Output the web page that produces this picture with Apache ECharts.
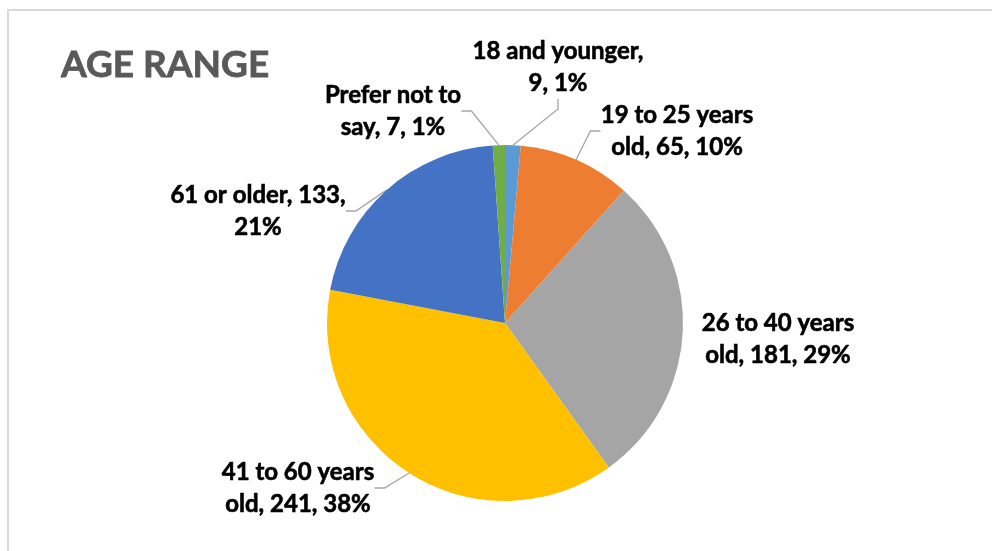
<!DOCTYPE html>
<html>
<head>
<meta charset="utf-8">
<script src="https://cdn.jsdelivr.net/npm/echarts@6/dist/echarts.min.js"></script>
<style>
  html, body { margin: 0; padding: 0; background: #fff; }
  #chart { width: 992px; height: 551px; }
</style>
</head>
<body>
<div id="chart"></div>
<script>
const categories = ['18 and younger', '19 to 25 years old', '26 to 40 years old', '41 to 60 years old', '61 or older', 'Prefer not to say'];
const values = [9, 65, 181, 241, 133, 7];
const colors = ['#5B9BD5', '#ED7D31', '#A5A5A5', '#FFC000', '#4472C4', '#70AD47'];
const labelTexts = [
  '18 and younger,\n9, 1%',
  '19 to 25 years\nold, 65, 10%',
  '26 to 40 years\nold, 181, 29%',
  '41 to 60 years\nold, 241, 38%',
  '61 or older, 133,\n21%',
  'Prefer not to\nsay, 7, 1%'
];
// label block centers (layout only)
const labelPos = [[558, 67], [677, 131], [778, 339], [298, 488], [258, 211], [393, 111]];
const showLine = [true, true, false, true, true, true];

const chart = echarts.init(document.getElementById('chart'));
const FONT = 'Lato';
chart.setOption({
  animation: false,
  backgroundColor: '#ffffff',
  title: {
    text: 'AGE RANGE',
    left: 56, top: 42,
    textStyle: { fontFamily: FONT, fontWeight: 'bold', fontSize: 37, color: '#595959',
      textBorderColor: '#595959', textBorderWidth: 0.8 }
  },
  graphic: [{
    type: 'rect', silent: true,
    shape: { x: 8, y: 10, width: 1100, height: 700 },
    style: { fill: 'none', stroke: '#d9d9d9', lineWidth: 2 }
  }],
  series: [{
    type: 'pie',
    center: [505, 323],
    radius: 178,
    startAngle: 90,
    clockwise: true,
    avoidLabelOverlap: false,
    itemStyle: { borderWidth: 0 },
    data: categories.map((c, i) => ({
      name: c, value: values[i],
      itemStyle: { color: colors[i] },
      label: { formatter: labelTexts[i] },
      labelLine: { show: showLine[i] }
    })),
    label: {
      show: true,
      position: 'outside',
      fontFamily: FONT, fontWeight: 'bold', fontSize: 24,
      color: '#000', lineHeight: 32, align: 'center',
      textBorderColor: '#000', textBorderWidth: 0.6
    },
    labelLine: { show: true, length: 10, length2: 10, lineStyle: { color: '#a6a6a6', width: 1.3 } },
    labelLayout: function (p) {
      const pos = labelPos[p.dataIndex];
      return { x: pos[0], y: pos[1], align: 'center', verticalAlign: 'middle' };
    },
    emphasis: { disabled: true }
  }]
});
</script>
</body>
</html>
